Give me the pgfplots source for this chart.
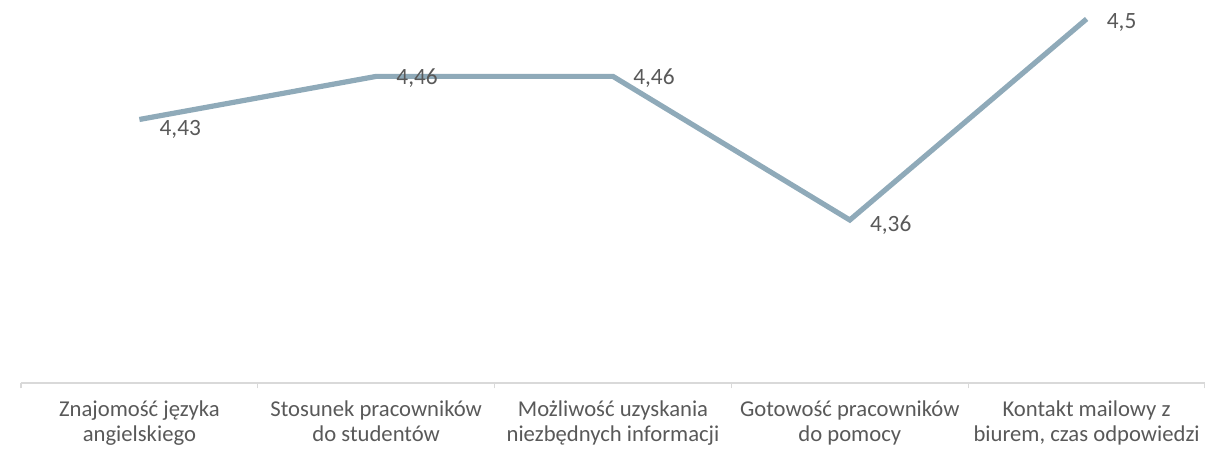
\documentclass[border=0pt]{standalone}
\usepackage{pgfplots}
\pgfplotsset{compat=1.18}
\usepackage{fontspec}
\setmainfont{Carlito}
\definecolor{linec}{RGB}{143,170,185}
\definecolor{txt}{RGB}{89,89,89}
\definecolor{axc}{RGB}{217,217,217}
\begin{document}
\begin{tikzpicture}
\useasboundingbox (-15.75pt,-49.5pt) rectangle (888pt,287.25pt);
\begin{axis}[scale only axis, width=888pt, height=287.25pt,
 xmin=-0.5, xmax=4.5, ymin=4.2465, ymax=4.5132,
 axis y line=none, axis x line*=bottom,
 x axis line style={axc, line width=0.8pt},
 xtick={-0.5,0.5,1.5,2.5,3.5,4.5},
 x tick label as interval,
 xticklabels={{Znajomość języka\\angielskiego},{Stosunek pracowników\\do studentów},{Możliwość uzyskania\\niezbędnych informacji},{Gotowość pracowników\\do pomocy},{Kontakt mailowy z\\biurem, czas odpowiedzi}},
 xticklabel style={align=center, font=\fontsize{17}{18.5}\selectfont, text=txt, inner sep=0pt, yshift=-9pt},
 major tick length=4pt, tick align=outside, x tick style={axc, line width=0.8pt},
 clip=false,
 /pgf/number format/use comma,
 /pgf/number format/assume math mode=true,
 nodes near coords style={anchor=west, inner sep=0pt, xshift=15pt, text=txt, font=\fontsize{17.5}{18}\selectfont},
]
\addplot[linec, line width=3.9pt, mark=none] coordinates {(0,4.43)(1,4.46)(2,4.46)(3,4.36)(4,4.5)};
\addplot[draw=none, mark=none, nodes near coords, point meta=y, nodes near coords style={yshift=-7.5pt}] coordinates {(0,4.43)};
\addplot[draw=none, mark=none, nodes near coords, point meta=y, nodes near coords style={yshift=-1pt}] coordinates {(1,4.46)(2,4.46)};
\addplot[draw=none, mark=none, nodes near coords, point meta=y, nodes near coords style={yshift=-3.5pt}] coordinates {(3,4.36)};
\addplot[draw=none, mark=none, nodes near coords, point meta=y, nodes near coords style={yshift=-2.5pt}] coordinates {(4,4.5)};
\end{axis}
\end{tikzpicture}
\end{document}
